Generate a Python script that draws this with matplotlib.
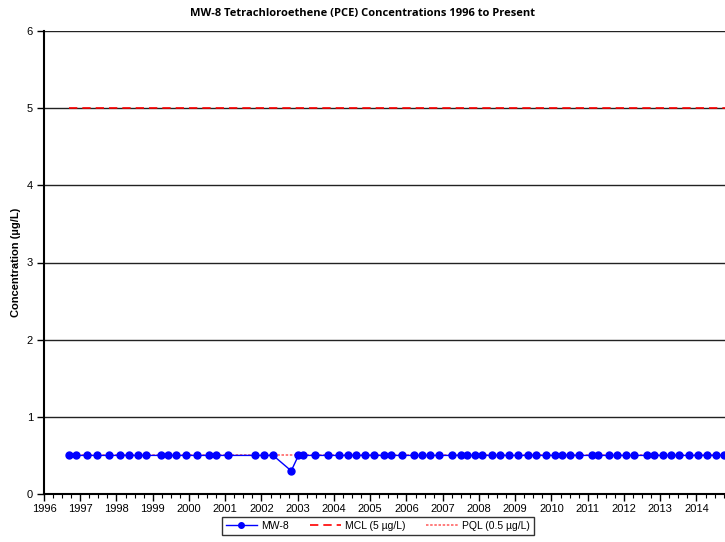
import matplotlib.pyplot as plt
from matplotlib.ticker import MultipleLocator
import numpy as np

# sample dates (decimal years) and PCE results (ug/L)
dates = [1996.69, 1996.87, 1997.18, 1997.45, 1997.80, 1998.10, 1998.35, 1998.58,
         1998.81, 1999.22, 1999.42, 1999.64, 1999.93, 2000.21, 2000.55, 2000.74,
         2001.08, 2001.81, 2002.08, 2002.32, 2002.82, 2003.02, 2003.14, 2003.48,
         2003.83, 2004.13, 2004.38, 2004.60, 2004.85, 2005.10, 2005.37, 2005.58,
         2005.87, 2006.22, 2006.43, 2006.64, 2006.90, 2007.25, 2007.50, 2007.66,
         2007.88, 2008.09, 2008.36, 2008.58, 2008.84, 2009.08, 2009.34, 2009.56,
         2009.85, 2010.09, 2010.28, 2010.51, 2010.77, 2011.12, 2011.27, 2011.59,
         2011.82, 2012.05, 2012.28, 2012.64, 2012.83, 2013.07, 2013.30, 2013.52,
         2013.78, 2014.05, 2014.29, 2014.55, 2014.77]
pce = [0.5] * len(dates)
pce[dates.index(2002.82)] = 0.3

mcl = 5.0
pql = 0.5
x_range = [1996, 2016]
years = list(range(1996, 2015))

fig = plt.figure(figsize=(7.25, 5.42), dpi=100)
# axes runs off the right edge like the original export
ax = fig.add_axes([44 / 725, 48 / 542, 725 / 725, 463 / 542])

for y in range(1, 7):
    ax.axhline(y, color='#222222', lw=1.0, zorder=1)

# limit lines run from the first sample onward
lim_x = [dates[0], x_range[1]]
ax.plot(lim_x, [pql, pql], color='#ff6666', ls=(0, (1.5, 1)), lw=1.2,
        label='PQL (0.5 µg/L)', zorder=2)
ax.plot(lim_x, [mcl, mcl], color='red', ls=(0, (5, 3)), lw=1.2,
        label='MCL (5 µg/L)', zorder=3)
ax.plot(dates, pce, color='blue', lw=1.0, marker='o', ms=5, mfc='blue',
        mec='blue', label='MW-8', zorder=4)

ax.set_xlim(x_range)
ax.set_ylim(0, 6)
ax.set_xticks(years)
ax.set_xticklabels([str(y) for y in years], fontsize=8, family='Liberation Sans')
ax.xaxis.set_minor_locator(MultipleLocator(0.25))
ax.set_yticks(range(7))
ax.set_yticklabels([str(y) for y in range(7)], fontsize=8, family='Liberation Sans')
ax.tick_params(axis='x', which='major', length=5, width=1, direction='out', pad=2)
ax.tick_params(axis='x', which='minor', length=3, width=0.8, direction='out')
ax.tick_params(axis='y', length=5, width=1, direction='out', pad=3)

for s in ['top', 'right']:
    ax.spines[s].set_visible(False)
ax.spines['left'].set_linewidth(1.5)
ax.spines['bottom'].set_linewidth(1.5)

ax.set_ylabel('Concentration (µg/L)', fontsize=8, fontweight='bold',
              family='Liberation Sans', labelpad=4)

fig.text(0.5, 0.975, 'MW-8 Tetrachloroethene (PCE) Concentrations 1996 to Present',
         ha='center', va='center', fontsize=8, fontweight='bold', family='Open Sans')

handles, labels = ax.get_legend_handles_labels()
order = [2, 1, 0]
leg = fig.legend([handles[i] for i in order], [labels[i] for i in order],
                 loc='center', bbox_to_anchor=(0.521, 0.030), ncol=3,
                 frameon=True, fancybox=False, edgecolor='black',
                 handlelength=3.0, handletextpad=0.4, columnspacing=2.0,
                 borderpad=0.4, markerscale=0.8,
                 prop={'family': 'Liberation Sans', 'size': 7.5})
leg.get_frame().set_linewidth(1.0)

fig.savefig('out.png', dpi=100)
